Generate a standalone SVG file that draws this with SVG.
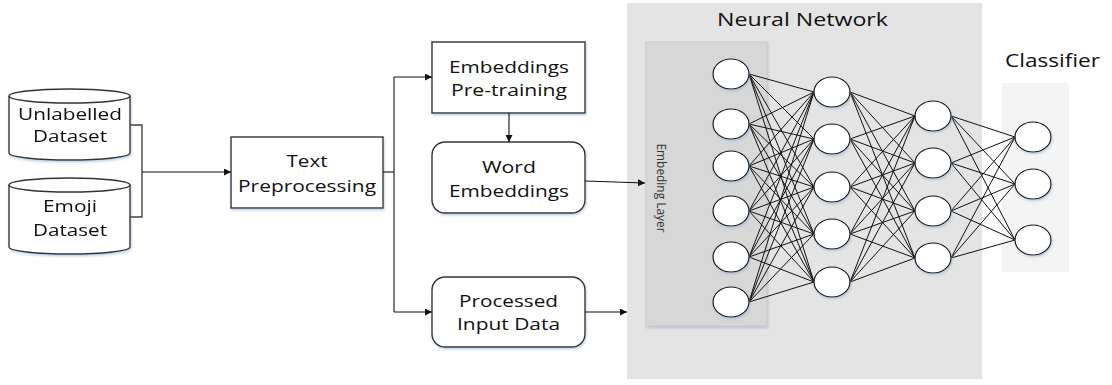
<svg xmlns="http://www.w3.org/2000/svg" width="1112" height="385" viewBox="0 0 1112 385">
<defs>
<style>
.t{font-family:"Open Sans","Noto Sans",sans-serif;font-size:17px;fill:#111;text-anchor:middle}
.box{fill:#fff;stroke:#333;stroke-width:1.4}
.cn{fill:none;stroke:#111;stroke-width:1.1}
.nd{fill:#fff;stroke:#111;stroke-width:1.2}
.ln{stroke:#111;stroke-width:1;fill:none}
</style>
<marker id="ah" markerWidth="8" markerHeight="8" refX="7" refY="3.5" orient="auto" markerUnits="userSpaceOnUse">
<path d="M0,0 L7,3.5 L0,7 Z" fill="#111"/>
</marker>
<filter id="sh" x="-20%" y="-20%" width="140%" height="150%">
<feDropShadow dx="0.8" dy="1.6" stdDeviation="0.8" flood-color="#8fa8cc" flood-opacity="0.55"/>
</filter>
</defs>

<g id="nn-bg">
<rect x="627" y="3" width="355" height="376" fill="#e4e4e4"/>
<text class="t" x="802.5" y="26" style="font-size:19px" textLength="171" lengthAdjust="spacingAndGlyphs">Neural Network</text>
</g>
<g id="embedding-layer">
<rect x="646" y="42" width="121" height="284" fill="#d7d7d7" stroke="#cbcbcb" stroke-width="1" filter="url(#sh)"/>
<text transform="translate(657,188) rotate(90)" x="0" y="0" style="font-family:'Open Sans','Noto Sans',sans-serif;font-size:13.5px;fill:#333;text-anchor:middle" textLength="89" lengthAdjust="spacingAndGlyphs">Embeding Layer</text>
</g>
<g id="classifier-bg">
<rect x="1002" y="83" width="67" height="189" fill="#f4f4f4"/>
<text class="t" x="1052.5" y="67" style="font-size:19px" textLength="95" lengthAdjust="spacingAndGlyphs">Classifier</text>
</g>

<g id="unlabelled-dataset" filter="url(#sh)">
<path class="box" d="M9,96 L9,153 A60.5,7 0 0 0 130,153 L130,96"/>
<ellipse class="box" cx="69.5" cy="96" rx="60.5" ry="7"/>
<text class="t" x="70" y="120" textLength="104" lengthAdjust="spacingAndGlyphs">Unlabelled</text>
<text class="t" x="70" y="142" textLength="74" lengthAdjust="spacingAndGlyphs">Dataset</text>
</g>
<g id="emoji-dataset" filter="url(#sh)">
<path class="box" d="M9,185 L9,247 A60.5,7 0 0 0 130,247 L130,185"/>
<ellipse class="box" cx="69.5" cy="185" rx="60.5" ry="7"/>
<text class="t" x="70" y="212" textLength="54" lengthAdjust="spacingAndGlyphs">Emoji</text>
<text class="t" x="70" y="236" textLength="74" lengthAdjust="spacingAndGlyphs">Dataset</text>
</g>
<g id="text-preprocessing">
<rect class="box" x="231" y="137" width="152" height="71" filter="url(#sh)"/>
<text class="t" x="307" y="167" textLength="41" lengthAdjust="spacingAndGlyphs">Text</text>
<text class="t" x="307" y="192" textLength="138" lengthAdjust="spacingAndGlyphs">Preprocessing</text>
</g>
<g id="embeddings-pretraining">
<rect class="box" x="432" y="42" width="153" height="71" filter="url(#sh)"/>
<text class="t" x="509" y="73" textLength="120" lengthAdjust="spacingAndGlyphs">Embeddings</text>
<text class="t" x="509" y="96" textLength="116" lengthAdjust="spacingAndGlyphs">Pre-training</text>
</g>
<g id="word-embeddings">
<rect class="box" x="432" y="142" width="153" height="71" rx="13" filter="url(#sh)"/>
<text class="t" x="509" y="173" textLength="54" lengthAdjust="spacingAndGlyphs">Word</text>
<text class="t" x="509" y="197" textLength="120" lengthAdjust="spacingAndGlyphs">Embeddings</text>
</g>
<g id="processed-input">
<rect class="box" x="432" y="277" width="153" height="70" rx="13" filter="url(#sh)"/>
<text class="t" x="508.5" y="307" textLength="99" lengthAdjust="spacingAndGlyphs">Processed</text>
<text class="t" x="508.5" y="330" textLength="103" lengthAdjust="spacingAndGlyphs">Input Data</text>
</g>

<g id="connectors">
<path d="M130,125 H142 V217 H130" fill="none" stroke="#444" stroke-width="1.4"/>
<path class="cn" d="M142,172 H231" marker-end="url(#ah)"/>
<path class="cn" d="M383,172 H394"/>
<path class="cn" d="M394,77 V312"/>
<path class="cn" d="M394,77 H432" marker-end="url(#ah)"/>
<path class="cn" d="M394,312 H432" marker-end="url(#ah)"/>
<path class="cn" d="M509,113 V142" marker-end="url(#ah)"/>
<path class="cn" d="M585,181 L645,183" marker-end="url(#ah)"/>
<path class="cn" d="M585,312 H627" marker-end="url(#ah)"/>
</g>

<g id="weights">
<path class="ln" d="M749,74 L814,92 M749,74 L814,139 M749,74 L814,187 M749,74 L814,234 M749,74 L814,282
M749,124 L814,92 M749,124 L814,139 M749,124 L814,187 M749,124 L814,234 M749,124 L814,282
M749,166 L814,92 M749,166 L814,139 M749,166 L814,187 M749,166 L814,234 M749,166 L814,282
M749,211 L814,92 M749,211 L814,139 M749,211 L814,187 M749,211 L814,234 M749,211 L814,282
M749,257 L814,92 M749,257 L814,139 M749,257 L814,187 M749,257 L814,234 M749,257 L814,282
M749,302 L814,92 M749,302 L814,139 M749,302 L814,187 M749,302 L814,234 M749,302 L814,282"/>
<path class="ln" d="M850,92 L915,116 M850,92 L915,163 M850,92 L915,211 M850,92 L915,258
M850,139 L915,116 M850,139 L915,163 M850,139 L915,211 M850,139 L915,258
M850,187 L915,116 M850,187 L915,163 M850,187 L915,211 M850,187 L915,258
M850,234 L915,116 M850,234 L915,163 M850,234 L915,211 M850,234 L915,258
M850,282 L915,116 M850,282 L915,163 M850,282 L915,211 M850,282 L915,258"/>
<path class="ln" d="M951,116 L1015,137 M951,116 L1015,184 M951,116 L1015,240
M951,163 L1015,137 M951,163 L1015,184 M951,163 L1015,240
M951,211 L1015,137 M951,211 L1015,184 M951,211 L1015,240
M951,258 L1015,137 M951,258 L1015,184 M951,258 L1015,240"/>
</g>

<g id="input-layer" filter="url(#sh)">
<ellipse class="nd" cx="731" cy="74" rx="18" ry="15"/>
<ellipse class="nd" cx="731" cy="124" rx="18" ry="15"/>
<ellipse class="nd" cx="731" cy="166" rx="18" ry="15"/>
<ellipse class="nd" cx="731" cy="211" rx="18" ry="15"/>
<ellipse class="nd" cx="731" cy="257" rx="18" ry="15"/>
<ellipse class="nd" cx="731" cy="302" rx="18" ry="15"/>
</g>
<g id="hidden-layer-1" filter="url(#sh)">
<ellipse class="nd" cx="832" cy="92" rx="18" ry="15"/>
<ellipse class="nd" cx="832" cy="139" rx="18" ry="15"/>
<ellipse class="nd" cx="832" cy="187" rx="18" ry="15"/>
<ellipse class="nd" cx="832" cy="234" rx="18" ry="15"/>
<ellipse class="nd" cx="832" cy="282" rx="18" ry="15"/>
</g>
<g id="hidden-layer-2" filter="url(#sh)">
<ellipse class="nd" cx="933" cy="116" rx="18" ry="15"/>
<ellipse class="nd" cx="933" cy="163" rx="18" ry="15"/>
<ellipse class="nd" cx="933" cy="211" rx="18" ry="15"/>
<ellipse class="nd" cx="933" cy="258" rx="18" ry="15"/>
</g>
<g id="output-layer" filter="url(#sh)">
<ellipse class="nd" cx="1033" cy="137" rx="18" ry="15"/>
<ellipse class="nd" cx="1033" cy="184" rx="18" ry="15"/>
<ellipse class="nd" cx="1033" cy="240" rx="18" ry="15"/>
</g>
</svg>
